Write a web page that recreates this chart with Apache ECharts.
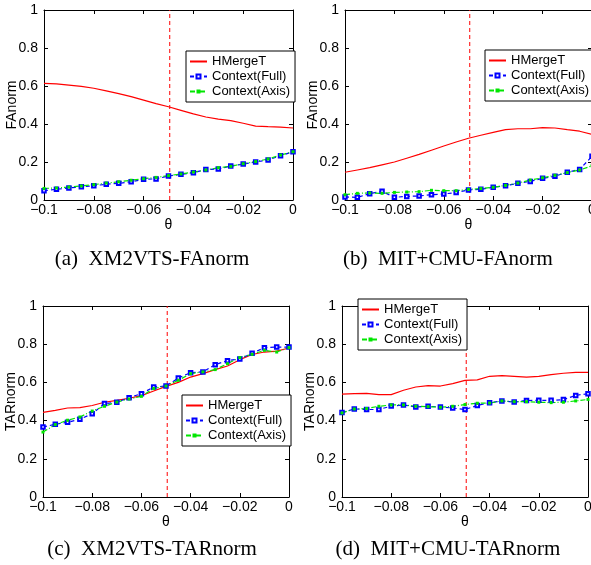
<!DOCTYPE html>
<html>
<head>
<meta charset="utf-8">
<script src="https://cdn.jsdelivr.net/npm/echarts@6/dist/echarts.min.js"></script>
<style>
  html, body { margin: 0; padding: 0; background: #fff; }
  #chart { width: 591px; height: 565px; }
</style>
</head>
<body>
<div id="chart"></div>
<script>
// theta values shared by every panel
const theta = [-0.1, -0.095, -0.09, -0.085, -0.08, -0.075, -0.07, -0.065, -0.06, -0.055,
  -0.05, -0.045, -0.04, -0.035, -0.03, -0.025, -0.02, -0.015, -0.01, -0.005, 0];
const thetaStar = -0.0495;

const seriesNames = ["HMergeT", "Context(Full)", "Context(Axis)"];
const xTicks = ["-0.1", "-0.08", "-0.06", "-0.04", "-0.02", "0"];

// (a) XM2VTS-FAnorm
const xmFaH = [0.614, 0.611, 0.605, 0.598, 0.588, 0.574, 0.56, 0.544, 0.526, 0.507, 0.491,
  0.472, 0.453, 0.437, 0.426, 0.418, 0.404, 0.389, 0.386, 0.384, 0.379];
const xmFaFull = [0.049, 0.056, 0.063, 0.07, 0.075, 0.083, 0.088, 0.096, 0.109, 0.111, 0.126,
  0.135, 0.144, 0.16, 0.163, 0.179, 0.189, 0.2, 0.211, 0.233, 0.254];
const xmFaAxis = [0.061, 0.063, 0.068, 0.074, 0.081, 0.089, 0.096, 0.104, 0.112, 0.119, 0.128,
  0.137, 0.147, 0.158, 0.17, 0.177, 0.191, 0.202, 0.216, 0.237, 0.254];

// (b) MIT+CMU-FAnorm
const mcFaH = [0.146, 0.158, 0.17, 0.185, 0.2, 0.22, 0.24, 0.262, 0.284, 0.305, 0.325,
  0.341, 0.356, 0.37, 0.375, 0.375, 0.381, 0.379, 0.37, 0.362, 0.346];
const mcFaFull = [0.016, 0.014, 0.033, 0.046, 0.014, 0.019, 0.021, 0.028, 0.032, 0.039, 0.053,
  0.056, 0.067, 0.075, 0.088, 0.098, 0.114, 0.125, 0.146, 0.161, 0.23];
const mcFaAxis = [0.028, 0.035, 0.037, 0.035, 0.04, 0.042, 0.044, 0.051, 0.049, 0.049, 0.056,
  0.06, 0.067, 0.077, 0.089, 0.105, 0.117, 0.13, 0.144, 0.158, 0.18];

// (c) XM2VTS-TARnorm
const xmTarH = [0.443, 0.454, 0.466, 0.468, 0.479, 0.496, 0.506, 0.517, 0.531, 0.555, 0.579,
  0.6, 0.628, 0.646, 0.667, 0.686, 0.719, 0.746, 0.759, 0.764, 0.78];
const xmTarFull = [0.366, 0.381, 0.391, 0.407, 0.436, 0.489, 0.496, 0.52, 0.541, 0.576, 0.581,
  0.623, 0.651, 0.655, 0.693, 0.714, 0.723, 0.752, 0.782, 0.785, 0.785];
const xmTarAxis = [0.34, 0.379, 0.402, 0.419, 0.45, 0.475, 0.497, 0.513, 0.527, 0.568, 0.581,
  0.611, 0.646, 0.655, 0.667, 0.698, 0.73, 0.747, 0.768, 0.759, 0.782];

// (d) MIT+CMU-TARnorm
const mcTarH = [0.539, 0.541, 0.543, 0.536, 0.536, 0.559, 0.576, 0.583, 0.581, 0.594, 0.611,
  0.613, 0.632, 0.635, 0.632, 0.628, 0.632, 0.641, 0.648, 0.653, 0.653];
const mcTarFull = [0.442, 0.461, 0.458, 0.458, 0.476, 0.482, 0.471, 0.475, 0.471, 0.466, 0.458,
  0.479, 0.494, 0.503, 0.497, 0.505, 0.506, 0.506, 0.51, 0.532, 0.541];
const mcTarAxis = [0.44, 0.461, 0.463, 0.475, 0.482, 0.482, 0.475, 0.473, 0.47, 0.475, 0.484,
  0.491, 0.492, 0.503, 0.499, 0.499, 0.496, 0.494, 0.496, 0.503, 0.511];

const panels = [
  { grid: { left: 44, top: 10, width: 249, height: 190 }, yName: "FAnorm",
    legend: { left: 186, top: 51 }, caption: "(a)  XM2VTS-FAnorm", cap: [152, 259],
    h: xmFaH, full: xmFaFull, axis: xmFaAxis },
  { grid: { left: 345, top: 10, width: 247, height: 190 }, yName: "FAnorm",
    legend: { left: 485, top: 50 }, caption: "(b)  MIT+CMU-FAnorm", cap: [448, 259],
    h: mcFaH, full: mcFaFull, axis: mcFaAxis },
  { grid: { left: 43, top: 306, width: 246, height: 191 }, yName: "TARnorm",
    legend: { left: 182, top: 395 }, caption: "(c)  XM2VTS-TARnorm", cap: [152, 549],
    h: xmTarH, full: xmTarFull, axis: xmTarAxis },
  { grid: { left: 342, top: 306, width: 246, height: 191 }, yName: "TARnorm",
    legend: { left: 358, top: 299 }, caption: "(d)  MIT+CMU-TARnorm", cap: [448, 549],
    h: mcTarH, full: mcTarFull, axis: mcTarAxis },
];

const font = "Liberation Sans";
const black = "#000";
const red = "#ff0000", blue = "#0000ff", green = "#00e600";
const pairs = (ys) => theta.map((t, i) => [t, ys[i]]);

const grids = [], xAxes = [], yAxes = [], series = [], legends = [], graphics = [];

panels.forEach((p, k) => {
  grids.push(Object.assign({ containLabel: false, outerBoundsMode: "none" }, p.grid));
  const tick = { show: true, inside: true, length: 4, lineStyle: { color: black } };
  const line = { show: true, onZero: false, lineStyle: { color: black, width: 1 } };
  // bottom + mirrored top
  xAxes.push({
    gridIndex: k, type: "value", min: -0.1, max: 0, interval: 0.02,
    axisLine: line, axisTick: tick, splitLine: { show: false },
    axisLabel: { color: black, fontFamily: font, fontSize: 14, margin: 3,
      formatter: (v) => xTicks[Math.round((v + 0.1) / 0.02)].replace("-", "\u2212") },
    name: "\u03b8", nameLocation: "middle", nameGap: 14,
    nameTextStyle: { color: black, fontFamily: font, fontSize: 14 },
  });
  xAxes.push({
    gridIndex: k, type: "value", min: -0.1, max: 0, interval: 0.02, position: "top",
    axisLine: line, axisTick: tick, axisLabel: { show: false }, splitLine: { show: false },
  });
  // left + mirrored right
  yAxes.push({
    gridIndex: k, type: "value", min: 0, max: 1, interval: 0.2,
    axisLine: line, axisTick: tick, splitLine: { show: false },
    axisLabel: { color: black, fontFamily: font, fontSize: 14, margin: 6 },
    name: p.yName, nameLocation: "middle", nameGap: 25, nameMoveOverlap: false,
    nameTextStyle: { color: black, fontFamily: font, fontSize: 14 },
  });
  yAxes.push({
    gridIndex: k, type: "value", min: 0, max: 1, interval: 0.2, position: "right",
    axisLine: line, axisTick: tick, axisLabel: { show: false }, splitLine: { show: false },
  });

  const xi = 2 * k, yi = 2 * k;
  // threshold theta* marker, spans the full y range
  series.push({
    name: "threshold", type: "line", xAxisIndex: xi, yAxisIndex: yi,
    data: [[thetaStar, 0], [thetaStar, 1]], symbol: "none", silent: true, color: red,
    lineStyle: { color: red, type: [4, 3], width: 1 },
  });
  series.push({
    name: seriesNames[0], type: "line", xAxisIndex: xi, yAxisIndex: yi,
    data: pairs(p.h), symbol: "none", color: red,
    lineStyle: { color: red, width: 1.2 },
  });
  series.push({
    name: seriesNames[1], type: "line", xAxisIndex: xi, yAxisIndex: yi,
    data: pairs(p.full), symbol: "emptyRect", symbolSize: 3.5, color: blue,
    itemStyle: { color: blue, borderWidth: 1.3 },
    lineStyle: { color: blue, type: [4, 3], width: 1.2 },
  });
  series.push({
    name: seriesNames[2], type: "line", xAxisIndex: xi, yAxisIndex: yi,
    data: pairs(p.axis), symbol: "rect", symbolSize: 3, color: green,
    itemStyle: { color: green },
    lineStyle: { color: green, type: [5, 2, 1, 2], width: 1.2 },
  });

  legends.push({
    left: p.legend.left, top: p.legend.top, orient: "vertical",
    data: [
      { name: seriesNames[0], itemStyle: { opacity: 0 } },
      { name: seriesNames[1] },
      { name: seriesNames[2] },
    ],
    selectedMode: false,
    backgroundColor: "#fff", borderColor: black, borderWidth: 1,
    padding: [3, 5, 3, 3], itemGap: 0, itemWidth: 17, itemHeight: 5,
    textStyle: { color: black, fontFamily: font, fontSize: 13, lineHeight: 15 },
  });

  graphics.push({
    type: "text", x: p.cap[0], y: p.cap[1],
    style: { text: p.caption, fill: black, font: '21px "Liberation Serif"',
      textAlign: "center", textVerticalAlign: "middle" },
  });
});

const chart = echarts.init(document.getElementById("chart"), null, { renderer: "canvas" });
chart.setOption({
  animation: false,
  backgroundColor: "#fff",
  grid: grids,
  xAxis: xAxes,
  yAxis: yAxes,
  legend: legends,
  series: series,
  graphic: graphics,
});

window.addEventListener("resize", () => {
  if (chart) {
    chart.resize();
  }
});
</script>
</body>
</html>
